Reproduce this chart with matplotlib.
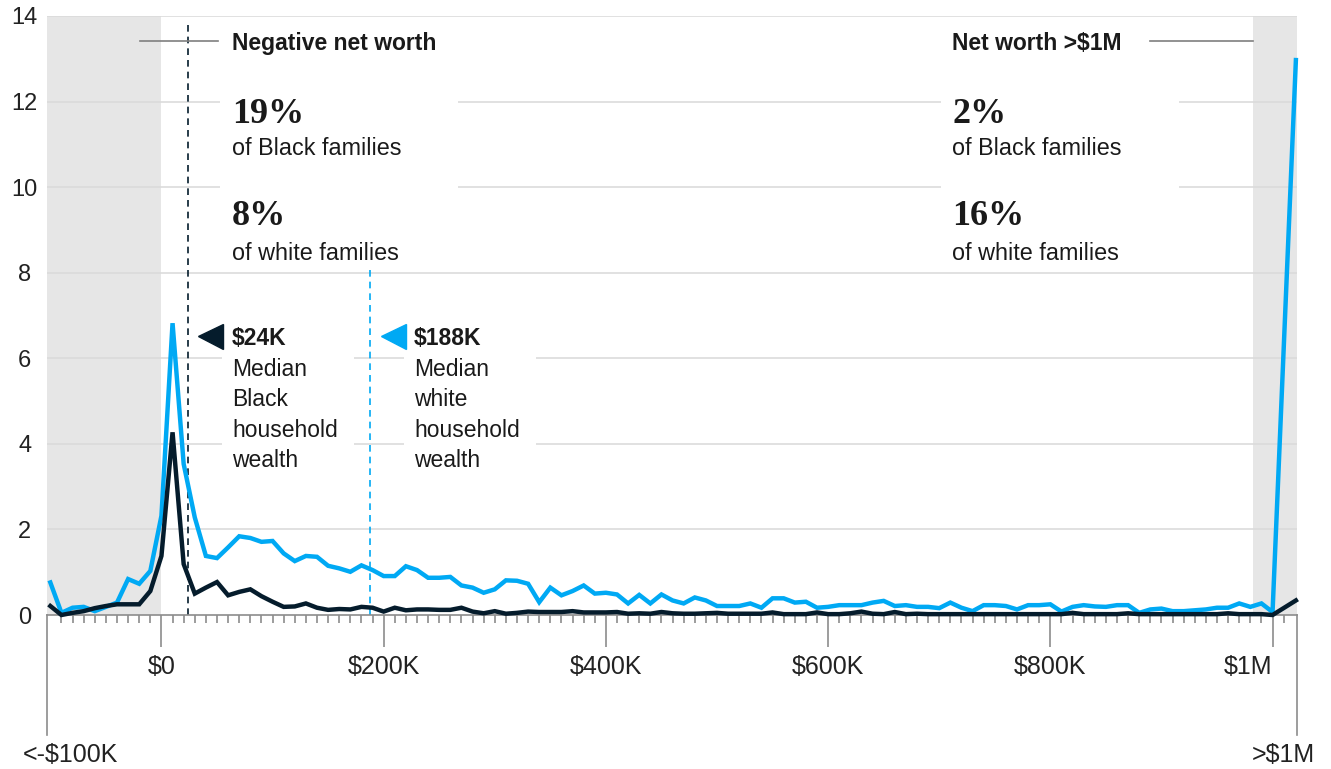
import numpy as np
import matplotlib.pyplot as plt
from matplotlib.patches import Rectangle
from matplotlib.transforms import blended_transform_factory

SANS = ['Liberation Sans', 'DejaVu Sans']
SERIF = ['Liberation Serif', 'DejaVu Serif']
plt.rcParams['font.family'] = SANS

NAVY = '#051c2c'
CYAN = '#00a9f4'
GRID = '#d9d9d9'
AXIS_GRAY = '#8c8c8c'
SHADE = '#e6e6e6'
TEXT = '#1a1a1a'

# wealth bins in $K: first one stands for <-$100K, then $10K steps up to $1M, last is >$1M
bins_k = list(range(-100, 1001, 10))
over_1m_pos = 1021

# share of households per bin (%)
black_pct = [
    0.21, 0.00, 0.05, 0.09, 0.16, 0.21, 0.25, 0.25, 0.25, 0.56,
    1.38, 4.27, 1.19, 0.50, 0.64, 0.77, 0.46, 0.54, 0.60, 0.44,
    0.31, 0.19, 0.20, 0.27, 0.17, 0.12, 0.14, 0.13, 0.19, 0.17,
    0.08, 0.17, 0.11, 0.13, 0.13, 0.12, 0.12, 0.17, 0.08, 0.04,
    0.09, 0.03, 0.05, 0.08, 0.07, 0.07, 0.07, 0.09, 0.06, 0.06,
    0.06, 0.07, 0.03, 0.04, 0.03, 0.07, 0.04, 0.03, 0.03, 0.04,
    0.05, 0.03, 0.03, 0.03, 0.03, 0.06, 0.02, 0.02, 0.02, 0.06,
    0.02, 0.02, 0.04, 0.08, 0.03, 0.02, 0.07, 0.02, 0.03, 0.02,
    0.02, 0.02, 0.02, 0.02, 0.02, 0.02, 0.02, 0.02, 0.02, 0.02,
    0.02, 0.02, 0.05, 0.02, 0.02, 0.02, 0.02, 0.04, 0.02, 0.02,
    0.02, 0.02, 0.02, 0.02, 0.02, 0.02, 0.04, 0.02, 0.02, 0.02,
    0.00, 0.34,
]
white_pct = [
    0.76, 0.05, 0.17, 0.19, 0.09, 0.19, 0.29, 0.84, 0.73, 1.03,
    2.32, 6.82, 3.53, 2.28, 1.38, 1.33, 1.58, 1.84, 1.80, 1.71,
    1.73, 1.44, 1.26, 1.38, 1.36, 1.15, 1.09, 1.01, 1.16, 1.05,
    0.91, 0.91, 1.14, 1.05, 0.87, 0.87, 0.89, 0.69, 0.64, 0.52,
    0.60, 0.81, 0.80, 0.73, 0.30, 0.64, 0.46, 0.56, 0.69, 0.50,
    0.52, 0.48, 0.27, 0.47, 0.27, 0.48, 0.34, 0.27, 0.41, 0.34,
    0.21, 0.21, 0.21, 0.27, 0.17, 0.39, 0.39, 0.29, 0.31, 0.17,
    0.19, 0.23, 0.23, 0.23, 0.29, 0.33, 0.21, 0.23, 0.19, 0.19,
    0.16, 0.29, 0.17, 0.09, 0.23, 0.23, 0.21, 0.13, 0.23, 0.23,
    0.25, 0.08, 0.19, 0.23, 0.20, 0.19, 0.23, 0.23, 0.05, 0.13,
    0.15, 0.09, 0.09, 0.11, 0.13, 0.17, 0.17, 0.27, 0.19, 0.27,
    0.07, 12.97,
]

median_black_k = 24
median_white_k = 188

neg_title = 'Negative net worth'
neg_shares = ['19%', '8%']
top_title = 'Net worth >$1M'
top_shares = ['2%', '16%']
share_groups = ['of Black families', 'of white families']

xtick_pos = [0, 200, 400, 600, 800, 1000]
xtick_labels = ['$0', '$200K', '$400K', '$600K', '$800K', '$1M']
ytick_pos = list(range(0, 15, 2))

x = np.array(bins_k + [over_1m_pos])
x_left, x_right = -103, 1022

W, H = 1331, 769
fig = plt.figure(figsize=(W / 100, H / 100), dpi=100)
ax = fig.add_axes([47 / W, 1 - 615 / H, 1250 / W, 599 / H])
ax.set_xlim(x_left, x_right)
ax.set_ylim(0, 14)

# shaded tails
ax.axvspan(x_left, 0, color=SHADE, lw=0, zorder=0.5)
ax.axvspan(982, x_right, color=SHADE, lw=0, zorder=0.5)

for yv in ytick_pos[1:]:
    ax.axhline(yv, color=GRID, lw=1.1, zorder=1)

# median lines
ax.axvline(median_black_k, ymax=13.9 / 14, color=NAVY, lw=1.2, ls=(0, (4, 3)), zorder=2)
ax.axvline(median_white_k, ymax=13.9 / 14, color=CYAN, lw=1.2, ls=(0, (4, 3)), zorder=2)

# white panels behind the text (they break the gridlines)
for x0 in [53, 702]:
    ax.add_patch(Rectangle((x0, 8.1), 214, 13.8 - 8.1, facecolor='white', lw=0, zorder=3))
for x0 in [median_black_k + 30.5, median_white_k + 30.2]:
    ax.add_patch(Rectangle((x0, 3.1), 119, 7.4 - 3.1, facecolor='white', lw=0, zorder=3))

ax.plot(x, white_pct, color=CYAN, lw=3.2, zorder=4, clip_on=False, solid_joinstyle='miter')
ax.plot(x, black_pct, color=NAVY, lw=3.2, zorder=4.5, clip_on=False, solid_joinstyle='miter')

# top-left and top-right stat blocks
def stat_block(x0, title, shares):
    ax.text(x0, 13.21, title, fontsize=16.5, fontweight='bold', color=TEXT, va='baseline', zorder=5)
    ax.text(x0, 11.51, shares[0], family=SERIF, fontsize=26, fontweight='bold', color=TEXT,
            va='baseline', zorder=5)
    ax.text(x0, 10.75, share_groups[0], fontsize=16.8, color=TEXT, va='baseline', zorder=5)
    ax.text(x0, 9.11, shares[1], family=SERIF, fontsize=26, fontweight='bold', color=TEXT,
            va='baseline', zorder=5)
    ax.text(x0, 8.29, share_groups[1], fontsize=16.8, color=TEXT, va='baseline', zorder=5)

stat_block(63.5, neg_title, neg_shares)
stat_block(711.5, top_title, top_shares)

ax.plot([-19.5, 50.8], [13.42, 13.42], color='#7f7f7f', lw=1.2, zorder=4)
ax.plot([889.5, 982], [13.42, 13.42], color='#7f7f7f', lw=1.2, zorder=4)

# median call-outs
def median_note(xm, label, group, color):
    ax.plot(xm + 20, 6.53, marker='<', ms=18, color=color, mec=color, zorder=5)
    lines = [label, 'Median', group, 'household', 'wealth']
    for i, line in enumerate(lines):
        ax.text(xm + 39.5, 6.30 - 0.71 * i, line, fontsize=16.5, color=TEXT,
                fontweight='bold' if i == 0 else 'normal', va='baseline', zorder=5)

median_note(median_black_k, '$24K', 'Black', NAVY)
median_note(median_white_k, '$188K', 'white', CYAN)

# axes styling
for side in ['left', 'right', 'top']:
    ax.spines[side].set_visible(False)
ax.spines['bottom'].set_color(AXIS_GRAY)
ax.spines['bottom'].set_linewidth(1.2)
ax.spines['bottom'].set_zorder(4.2)

ax.set_xticks(xtick_pos)
ax.set_xticklabels(xtick_labels)
minor = [b for b in bins_k + [1010] if b not in xtick_pos and b != -100]
ax.set_xticks(minor, minor=True)
ax.tick_params(axis='x', which='major', length=23, width=1.2, color=AXIS_GRAY,
               labelsize=18, labelcolor='#222222', pad=6)
ax.tick_params(axis='x', which='minor', length=6, width=1.2, color=AXIS_GRAY)
ax.get_xticklabels()[-1].set_horizontalalignment('right')

ax.set_yticks(ytick_pos)
ax.set_yticklabels([str(v) for v in ytick_pos])
ax.tick_params(axis='y', length=0, labelsize=17, labelcolor='#222222', pad=16)
for lab in ax.get_yticklabels():
    lab.set_horizontalalignment('center')

# long end ticks and their labels
trans = blended_transform_factory(ax.transData, ax.transAxes)
for xe in [x_left, x_right]:
    ax.plot([xe, xe], [0, -120 / 599], color=AXIS_GRAY, lw=1.2, transform=trans, clip_on=False)
ax.annotate('<-$100K', xy=(x_left, 0), xycoords=trans, xytext=(-24, -140),
            textcoords='offset pixels', ha='left', va='center', fontsize=18, color='#222222')
ax.annotate('>$1M', xy=(x_right, 0), xycoords=trans, xytext=(18, -140),
            textcoords='offset pixels', ha='right', va='center', fontsize=18, color='#222222')

fig.savefig('out.png', dpi=100)
